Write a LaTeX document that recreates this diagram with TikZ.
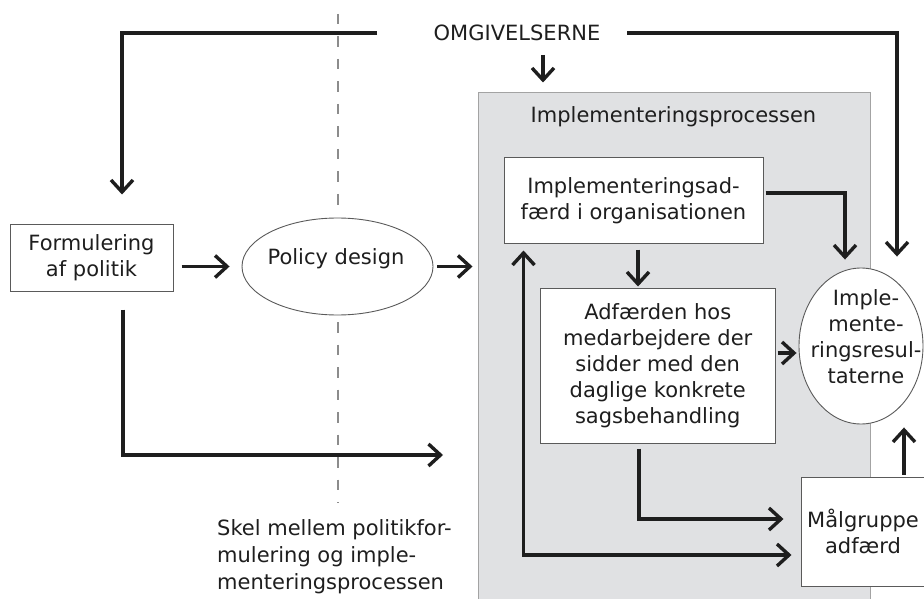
\documentclass[tikz,border=0pt]{standalone}
\usepackage{fontspec}
\setmainfont{DejaVu Sans}
\usetikzlibrary{arrows.meta,shapes.geometric,calc}
\definecolor{procfill}{HTML}{E0E1E3}
\definecolor{procedge}{HTML}{A3A3A3}
\definecolor{boxedge}{HTML}{5A5A5A}
\definecolor{ink}{HTML}{1E1E1E}
\definecolor{dashgray}{HTML}{8C8C8C}
\begin{document}
\begin{tikzpicture}[x=1pt,y=-1pt,
  every node/.style={font=\fontsize{21}{26}\selectfont, text=ink},
  txt/.style={inner sep=0pt, align=center},
  plainbox/.style={draw=boxedge, line width=1pt, fill=white, rectangle, inner sep=0pt, align=center},
  oval/.style={draw=boxedge, line width=0.9pt, fill=white, ellipse, inner sep=0pt},
  arr/.style={draw=ink, line width=3.4pt, -{Straight Barb[length=12pt,width=22pt]}},
  dblarr/.style={draw=ink, line width=3.4pt, {Straight Barb[length=12pt,width=22pt]}-{Straight Barb[length=12pt,width=22pt]}},
  divider/.style={draw=dashgray, line width=2.8pt, dash pattern=on 10.5pt off 12pt},
]
\useasboundingbox (0,0) rectangle (924,599);
\clip (0,0) rectangle (924,599);

% dashed divider between policy formulation and implementation
\coordinate (divTop) at (338,14);
\coordinate (divMid) at (338,205);
\coordinate (divLow) at (338,322);
\coordinate (divEnd) at (338,503);
\draw[divider] (divTop) -- (divMid);
\draw[divider] (divLow) -- (divEnd);

% implementation process container
\node[draw=procedge, line width=1pt, fill=procfill, rectangle, inner sep=0pt,
      minimum width=392pt, minimum height=517pt] (proc) at (674,351.5) {};
\node[txt] (procTitle) at (673.5,117) {Implementeringsprocessen};

% environment
\node[txt] (omg) at (517,33) {OMGIVELSERNE};
\coordinate (envL) at (377,33);
\coordinate (envR) at (627,33);
\coordinate (envDown) at (543,55);

% boxes and ovals
\node[plainbox, minimum width=163pt, minimum height=67pt] (form) at (91.5,257.5)
  {Formulering\\af politik};
\node[oval, minimum width=191pt, minimum height=97pt] (pd) at (337.5,266.5) {};
\node[txt] (pdText) at (336,259) {Policy design};

\node[plainbox, minimum width=259pt, minimum height=85pt] (adf1) at (633.5,200.5)
  {Implementeringsad-\\færd i organisationen};
\node[plainbox, minimum width=235.5pt, minimum height=155pt] (adf2) at (657.75,365.5)
  {Adfærden hos\\medarbejdere der\\sidder med den\\daglige konkrete\\sagsbehandling};

\node[oval, minimum width=124pt, minimum height=156pt] (res) at (861,346) {};
\node[txt] (resText) at (866,337) {Imple-\\mente-\\ringsresul-\\taterne};

\node[plainbox, minimum width=124pt, minimum height=109pt] (malg) at (863,531.5)
  {Målgruppe\\adfærd};

\node[txt, align=left, anchor=west, font=\fontsize{21}{27}\selectfont] (skel) at (217,557)
  {Skel mellem politikfor-\\mulering og imple-\\menteringsprocessen};

% connectors from the environment
\draw[arr, shorten >=29pt] (envL) -| ($(form.north)+(30.5,0)$);
\draw[arr] (envR) -| ($(res.north)+(36,-11)$);
\draw[arr, shorten >=10pt] (envDown) -- (envDown |- proc.north);

% policy formulation side
\draw[arr, shorten <=8pt, shorten >=12pt] (form.east |- pd.center) -- (pd.west);
\draw[arr, shorten <=4pt, shorten >=5pt] (pd.east) -- (pd.east -| proc.west);
\coordinate (longEnd) at (443,455);
\draw[arr] ($(form.south)+(31.5,18)$) |- (longEnd);

% inside the implementation process
\draw[arr] ($(adf1.east)+(2,-7.5)$) -| ($(res.north)+(-16,-8)$);
\coordinate (d1) at ($(adf1.south)+(4.5,6)$);
\draw[arr, shorten >=1pt] (d1) -- (d1 |- adf2.north);
\coordinate (d2) at ($(adf2.east)+(1.5,-12.5)$);
\draw[arr, shorten >=2pt] (d2) -- (d2 -| res.west);
\coordinate (d3) at ($(adf2.south)+(-18.75,5)$);
\draw[arr] (d3) |- ($(malg.west)+(-17,-12.5)$);
\draw[dblarr] ($(adf1.south west)+(20,7)$) |- ($(malg.west)+(-9,23.5)$);
\draw[arr] ($(malg.north)+(41,-2)$) -- ($(res.south)+(43,3)$);
\end{tikzpicture}
\end{document}
